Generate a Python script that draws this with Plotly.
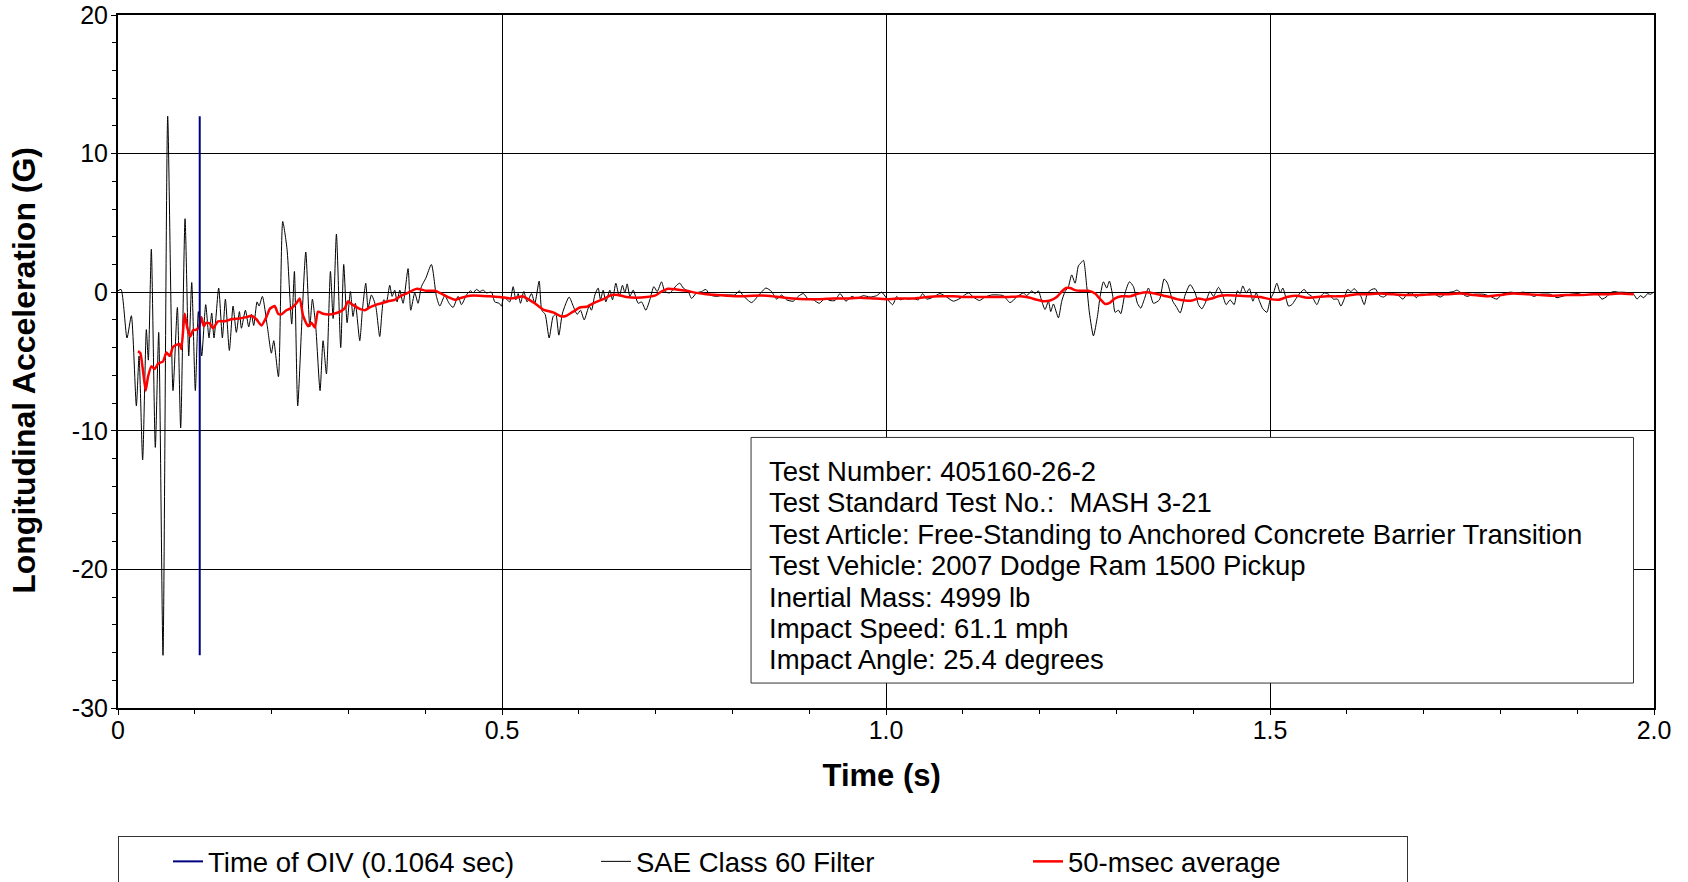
import plotly.graph_objects as go

# ---------------- data ----------------
oiv_time = 0.1064

sae_t = [0.0, 0.004, 0.0117, 0.0174, 0.0239, 0.0274, 0.0321, 0.0369, 0.0395, 0.0434,
         0.0486, 0.053, 0.0586, 0.0647, 0.0716, 0.0773, 0.0816, 0.0873, 0.0921, 0.096,
         0.1007, 0.1046, 0.109, 0.1142, 0.1185, 0.122, 0.125, 0.1311, 0.1359, 0.1398,
         0.145, 0.1498, 0.1541, 0.1581, 0.1607, 0.1659, 0.1702, 0.1737, 0.1767, 0.1811,
         0.1837, 0.188, 0.1945, 0.1997, 0.2028, 0.2089, 0.2145, 0.2201, 0.2262, 0.2297,
         0.234, 0.2393, 0.2445, 0.2497, 0.2531, 0.2575, 0.2631, 0.267, 0.2714, 0.2766,
         0.2801, 0.2844, 0.290, 0.2939, 0.2983, 0.3026, 0.306, 0.3091, 0.3148, 0.3182,
         0.3226, 0.3256, 0.33, 0.3356, 0.3408, 0.346, 0.3495, 0.3538, 0.3569, 0.3603,
         0.3634, 0.3669, 0.3712, 0.3777, 0.3812, 0.3864, 0.3907, 0.395, 0.4007, 0.4081,
         0.4146, 0.419, 0.4255, 0.4311, 0.4363, 0.4428, 0.4472, 0.4537, 0.4589, 0.4624,
         0.4667, 0.471, 0.4754, 0.4798, 0.4863, 0.4906, 0.4963, 0.4993, 0.5023, 0.5067,
         0.5101, 0.5145, 0.518, 0.521, 0.5241, 0.5284, 0.5327, 0.5384, 0.5427, 0.5484,
         0.5518, 0.5562, 0.5614, 0.5666, 0.5701, 0.574, 0.5788, 0.5874, 0.5927, 0.5979,
         0.6022, 0.607, 0.6135, 0.6165, 0.6209, 0.6252, 0.6283, 0.6317, 0.6352, 0.6404,
         0.6439, 0.6482, 0.6526, 0.6569, 0.66, 0.663, 0.6665, 0.6708, 0.6773, 0.6817,
         0.6873, 0.6925, 0.6977, 0.7021, 0.7077, 0.7121, 0.7186, 0.7273, 0.7316, 0.736,
         0.7425, 0.7468, 0.7533, 0.7598, 0.7655, 0.7707, 0.7794, 0.7881, 0.7967, 0.8033,
         0.8089, 0.8141, 0.825, 0.8337, 0.8437, 0.851, 0.8576, 0.8641, 0.8706, 0.8793,
         0.8858, 0.8923, 0.8988, 0.9053, 0.9131, 0.9205, 0.927, 0.9336, 0.9401, 0.9479,
         0.9553, 0.9618, 0.9705, 0.9791, 0.9878, 0.9943, 1.0009, 1.0087, 1.0139, 1.0182,
         1.0247, 1.0291, 1.0356, 1.0421, 1.0478, 1.053, 1.0616, 1.0703, 1.079, 1.0877,
         1.0964, 1.1072, 1.1138, 1.1216, 1.1289, 1.1376, 1.1463, 1.1528, 1.1615, 1.1702,
         1.1789, 1.1832, 1.1897, 1.1941, 1.1984, 1.2028, 1.2071, 1.2115, 1.2145, 1.218,
         1.2245, 1.2288, 1.2332, 1.2375, 1.2418, 1.2462, 1.2505, 1.2536, 1.2571, 1.2614,
         1.2649, 1.2701, 1.2753, 1.2788, 1.2831, 1.2874, 1.2909, 1.2953, 1.2983, 1.3027,
         1.3057, 1.3113, 1.317, 1.3222, 1.3274, 1.3317, 1.3361, 1.3417, 1.3482, 1.356,
         1.3621, 1.3665, 1.3734, 1.3786, 1.383, 1.3895, 1.396, 1.4025, 1.4069, 1.4112,
         1.4155, 1.422, 1.4264, 1.4329, 1.4385, 1.4429, 1.4481, 1.4533, 1.4576, 1.4611,
         1.4646, 1.469, 1.4733, 1.4777, 1.482, 1.4863, 1.4907, 1.4959, 1.5002, 1.5046,
         1.5089, 1.5133, 1.5167, 1.5211, 1.5241, 1.5285, 1.5328, 1.5393, 1.5445, 1.5489,
         1.5545, 1.561, 1.5654, 1.5706, 1.5762, 1.5827, 1.5879, 1.5923, 1.5966, 1.601,
         1.6053, 1.6097, 1.614, 1.6183, 1.6227, 1.627, 1.6327, 1.637, 1.6427, 1.6479,
         1.6544, 1.6609, 1.6674, 1.6731, 1.6783, 1.6848, 1.6904, 1.6956, 1.7043, 1.713,
         1.7217, 1.7304, 1.7391, 1.7434, 1.7477, 1.7564, 1.7651, 1.7781, 1.7868, 1.7955,
         1.802, 1.8129, 1.8215, 1.8302, 1.8368, 1.8433, 1.852, 1.865, 1.8737, 1.8802,
         1.891, 1.9019, 1.9084, 1.9171, 1.9258, 1.9323, 1.9388, 1.9431, 1.9475, 1.954,
         1.9605, 1.967, 1.9735, 1.9779, 1.9822, 1.9866, 1.9918, 1.9953, 1.9996]

sae_g = [0.1, 0.2, -3.3, -1.7, -8.2, -4.6, -12.1, -2.7, -4.9, 3.1,
         -11.2, -2.9, -26.2, 12.7, -7.1, -1.1, -9.8, 5.3, -4.6, 0.7,
         -7.1, -1.4, -4.6, -0.9, -3.3, -1.5, -3.3, 0.3, -3.3, -0.5,
         -4.2, -1.0, -2.9, -1.4, -2.6, -1.3, -2.5, -1.6, -2.4, -0.7,
         -1.0, -0.3, -2.5, -4.4, -3.5, -6.1, 5.1, 3.1, -2.3, 1.5,
         -8.2, -2.2, 2.9, -2.5, -0.5, -2.5, -7.1, -3.5, -5.9, 1.5,
         -1.9, 4.2, -4.0, 2.0, -2.2, 0.05, -1.75, -0.8, -3.5, -1.3,
         0.65, -1.15, -0.2, -1.0, -3.2, -0.55, -0.7, 0.5, -0.3, 0.15,
         -0.7, 0.15, -0.8, 1.7, -1.3, -0.05, -0.8, 0.4, 1.0, 2.0,
         -0.3, -1.0, -0.25, -0.8, -1.1, -0.3, -0.9, -0.2, 0.1, -0.05,
         0.2, 0.05, 0.15, -0.05, 0.0, -0.7, -0.8, -1.0, -0.35, -0.55,
         -0.7, 0.4, -0.55, -0.1, -0.8, 0.05, -0.7, -0.1, -0.8, 0.8,
         -1.3, -1.6, -3.3, -1.75, -1.6, -3.1, -1.5, -0.35, -1.0, -1.6,
         -1.3, -2.0, -1.0, -1.3, -0.2, 0.3, -0.55, 0.15, -0.7, 0.15,
         -0.55, 0.65, -0.3, 0.5, -0.05, 0.6, -0.3, 0.15, -0.8, -0.7,
         -1.3, -0.55, 0.4, 0.05, 0.75, 0.05, -0.05, 0.5, 0.65, 0.3,
         0.05, -0.45, -0.05, 0.05, 0.2, -0.2, -0.3, -0.2, -0.2, -0.2,
         0.1, -0.25, -0.75, -0.25, 0.3, 0.05, -0.5, -0.2, -0.55, -0.65,
         -0.3, -0.1, -0.5, -0.55, -0.8, -0.45, -0.6, -0.6, -0.1, -0.65,
         -0.3, -0.45, -0.25, -0.35, -0.25, 0.0, -0.45, -0.9, -0.3, -0.55,
         -0.45, -0.5, -0.45, -0.55, -0.1, -0.5, -0.35, -0.1, -0.35, -0.65,
         -0.45, -0.05, -0.35, -0.6, -0.35, -0.2, -0.2, -0.25, -0.75, -0.35,
         -0.05, -0.25, 0.1, -0.1, 0.1, -0.65, -1.25, -0.65, -1.4, -0.85,
         -1.85, -0.65, 0.05, 0.4, 1.25, 0.65, 1.9, 2.1, 2.3, 0.4,
         -1.5, -3.15, -1.75, -0.3, 0.75, 0.3, 0.8, -0.3, -1.45, -1.3,
         -1.55, -0.05, 0.75, 0.4, -0.8, -1.15, -0.55, 0.3, -0.8, -0.55,
         0.95, 0.65, -0.65, -1.1, -1.5, -0.2, 0.55, -0.05, -0.9, -1.2,
         -0.8, 0.05, -0.3, 0.35, -0.25, -0.9, -0.55, -0.9, 0.1, -0.1,
         0.45, -0.05, 0.25, -0.65, -0.05, -0.65, -1.2, -1.45, -0.55, -0.05,
         0.65, -0.05, 0.3, -0.5, -1.0, -0.9, -0.55, -0.05, 0.2, -0.1,
         -0.3, -0.9, -0.35, -0.05, -0.15, -0.5, -0.5, -1.0, -0.5, 0.2,
         0.05, 0.25, 0.0, -0.3, -0.9, -0.05, 0.2, 0.25, -0.25, -0.35,
         -0.1, -0.15, -0.25, -0.5, -0.15, -0.05, -0.4, -0.15, -0.15, -0.1,
         -0.35, -0.05, 0.05, 0.15, 0.0, -0.3, -0.15, -0.15, -0.3, -0.5,
         -0.15, 0.0, -0.05, 0.0, -0.1, -0.3, -0.15, -0.15, -0.4, -0.3,
         -0.15, -0.1, -0.25, -0.15, -0.1, -0.5, -0.3, -0.05, 0.05, 0.0,
         0.0, -0.05, -0.15, -0.5, -0.25, -0.4, -0.1, -0.15, 0.0]

avg_t = [0.026, 0.0291, 0.0326, 0.036, 0.0391, 0.0434, 0.0478, 0.0521, 0.0586, 0.063,
         0.0673, 0.0716, 0.076, 0.0803, 0.0825, 0.0868, 0.0899, 0.0942, 0.0977, 0.102,
         0.1055, 0.1086, 0.1116, 0.1151, 0.1194, 0.1238, 0.1303, 0.139, 0.1476, 0.1585,
         0.1672, 0.1737, 0.1802, 0.1867, 0.1932, 0.1976, 0.2041, 0.2084, 0.2128, 0.2193,
         0.2258, 0.2323, 0.2366, 0.241, 0.2475, 0.2518, 0.2562, 0.2605, 0.267, 0.2757,
         0.2844, 0.2909, 0.2953, 0.2996, 0.304, 0.3083, 0.3148, 0.3213, 0.3278, 0.3365,
         0.343, 0.3517, 0.3603, 0.369, 0.3755, 0.3842, 0.3894, 0.4016, 0.4125, 0.419,
         0.4298, 0.4385, 0.4472, 0.458, 0.471, 0.4841, 0.4971, 0.5101, 0.5188, 0.5267,
         0.534, 0.5427, 0.5536, 0.5666, 0.5775, 0.584, 0.5927, 0.6013, 0.61, 0.6187,
         0.6317, 0.6426, 0.6513, 0.6621, 0.6752, 0.6882, 0.6991, 0.7077, 0.7164, 0.7273,
         0.7403, 0.7533, 0.7663, 0.7794, 0.7924, 0.8098, 0.8272, 0.8445, 0.8619, 0.8793,
         0.8966, 0.914, 0.9314, 0.9488, 0.9661, 0.9835, 1.0009, 1.0182, 1.0356, 1.053,
         1.0703, 1.0877, 1.1051, 1.1224, 1.1398, 1.1572, 1.1745, 1.1876, 1.1963, 1.2049,
         1.2136, 1.2223, 1.2288, 1.2345, 1.2397, 1.2462, 1.2527, 1.2636, 1.2723, 1.2788,
         1.2853, 1.2918, 1.2983, 1.307, 1.3178, 1.3287, 1.3395, 1.3504, 1.3613, 1.37,
         1.3786, 1.3895, 1.3982, 1.4069, 1.4155, 1.4242, 1.4351, 1.4612, 1.4742, 1.4872,
         1.5002, 1.5111, 1.522, 1.535, 1.548, 1.561, 1.574, 1.587, 1.6001, 1.6131,
         1.6262, 1.6435, 1.6609, 1.6783, 1.6956, 1.713, 1.7304, 1.7477, 1.7651, 1.7825,
         1.7998, 1.8172, 1.8346, 1.852, 1.8693, 1.8867, 1.9041, 1.9214, 1.9388, 1.9562,
         1.9735]

avg_g = [-4.25, -4.4, -5.7, -7.1, -6.1, -5.35, -5.55, -5.15, -5.0, -4.35,
         -4.6, -3.95, -3.8, -3.75, -4.1, -1.55, -2.5, -3.2, -2.75, -2.7,
         -2.5, -1.8, -2.45, -2.2, -2.25, -2.6, -2.1, -2.1, -1.95, -1.9,
         -1.8, -1.7, -1.95, -2.4, -1.8, -1.2, -1.0, -1.55, -1.6, -1.3,
         -1.15, -0.8, -0.45, -1.7, -2.45, -2.2, -2.55, -1.4, -1.55, -1.6,
         -1.5, -1.35, -1.15, -0.65, -0.85, -1.0, -1.2, -1.3, -1.1, -0.9,
         -0.8, -0.65, -0.55, -0.25, -0.1, 0.15, 0.25, 0.1, 0.1, -0.05,
         -0.35, -0.55, -0.4, -0.25, -0.25, -0.3, -0.35, -0.45, -0.4, -0.3,
         -0.5, -0.8, -1.25, -1.45, -1.75, -1.7, -1.4, -1.1, -1.05, -0.8,
         -0.5, -0.2, -0.2, -0.35, -0.4, -0.35, -0.25, 0.05, 0.25, 0.2,
         0.1, -0.05, -0.15, -0.2, -0.25, -0.3, -0.25, -0.25, -0.35, -0.45,
         -0.5, -0.5, -0.45, -0.45, -0.4, -0.45, -0.5, -0.45, -0.45, -0.35,
         -0.3, -0.3, -0.35, -0.35, -0.35, -0.35, -0.3, -0.4, -0.55, -0.65,
         -0.6, -0.35, 0.05, 0.3, 0.3, 0.15, 0.1, 0.1, -0.1, -0.5,
         -0.85, -0.75, -0.45, -0.3, -0.3, -0.1, 0.0, -0.1, -0.25, -0.35,
         -0.5, -0.6, -0.6, -0.45, -0.55, -0.45, -0.25, -0.25, -0.3, -0.35,
         -0.5, -0.55, -0.35, -0.25, -0.4, -0.35, -0.3, -0.3, -0.25, -0.15,
         -0.15, -0.1, -0.15, -0.2, -0.2, -0.15, -0.15, -0.1, -0.2, -0.3,
         -0.2, -0.1, -0.15, -0.2, -0.25, -0.2, -0.2, -0.15, -0.15, -0.1,
         -0.15]

x_tick_vals = [0, 0.5, 1.0, 1.5, 2.0]
x_tick_text = ["0", "0.5", "1.0", "1.5", "2.0"]
y_tick_vals = [-30, -20, -10, 0, 10, 20]
y_tick_text = ["-30", "-20", "-10", "0", "10", "20"]

info_lines = [
    "Test Number: 405160-26-2",
    "Test Standard Test No.:  MASH 3-21",
    "Test Article: Free-Standing to Anchored Concrete Barrier Transition",
    "Test Vehicle: 2007 Dodge Ram 1500 Pickup",
    "Inertial Mass: 4999 lb",
    "Impact Speed: 61.1 mph",
    "Impact Angle: 25.4 degrees",
]

series_names = ["Time of OIV (0.1064 sec)", "SAE Class 60 Filter", "50-msec average"]

# ---------------- figure ----------------
FONT = "Arial, Liberation Sans, sans-serif"
fig = go.Figure()

fig.add_trace(go.Scatter(
    x=sae_t, y=sae_g, mode="lines", name=series_names[1], legendrank=2,
    legendwidth=338,
    line=dict(color="black", width=1, shape="spline", smoothing=0.6),
    hoverinfo="skip"))
fig.add_trace(go.Scatter(
    x=avg_t, y=avg_g, mode="lines", name=series_names[2], legendrank=3,
    legendwidth=334,
    line=dict(color="#ff0000", width=2.5, shape="spline", smoothing=0.5),
    hoverinfo="skip"))
fig.add_trace(go.Scatter(
    x=[oiv_time, oiv_time], y=[min(sae_g), max(sae_g)], mode="lines",
    name=series_names[0], legendrank=1, legendwidth=334,
    line=dict(color="#000080", width=2), hoverinfo="skip"))

# info box (data coordinates)
box_x0, box_x1 = 0.8243, 1.9733
box_y0, box_y1 = -28.2, -10.48
fig.add_shape(type="rect", xref="x", yref="y", x0=box_x0, x1=box_x1, y0=box_y0, y1=box_y1,
              line=dict(color="#333333", width=1), fillcolor="white", layer="above")
text_x = 0.8447
first_y = -12.94
step_y = -2.264
for i, line in enumerate(info_lines):
    fig.add_annotation(x=text_x, y=first_y + i * step_y, xref="x", yref="y",
                       text=line, showarrow=False, xanchor="left", yanchor="middle",
                       font=dict(family=FONT, size=27.5, color="black"))

fig.update_layout(
    width=1688, height=882,
    paper_bgcolor="white", plot_bgcolor="white",
    margin=dict(l=118, r=34, t=15, b=174, autoexpand=False),
    font=dict(family=FONT, size=25, color="black"),
    showlegend=True,
    legend=dict(orientation="h", x=0, xanchor="left", y=-0.1847, yanchor="top",
                bordercolor="#333333", borderwidth=1, bgcolor="white",
                font=dict(family=FONT, size=27.5, color="black"),
                entrywidth=334, entrywidthmode="pixels", indentation=49,
                traceorder="normal"),
)

fig.update_xaxes(
    range=[0, 2], tickvals=x_tick_vals, ticktext=x_tick_text, automargin=False,
    showgrid=True, gridcolor="black", gridwidth=1, zeroline=False,
    showline=True, linecolor="black", linewidth=2, mirror=True,
    ticks="outside", ticklen=5, tickcolor="black", ticklabelstandoff=-6,
    ticklabeloverflow="allow",
    minor=dict(dtick=0.1, ticks="outside", ticklen=4, tickcolor="black", showgrid=False),
    tickfont=dict(family=FONT, size=25),
    title=dict(text="<b>Time (s)</b>&nbsp;", font=dict(family=FONT, size=31), standoff=21),
)
fig.update_yaxes(
    range=[-30, 20], tickvals=y_tick_vals, ticktext=y_tick_text, automargin=False,
    showgrid=True, gridcolor="black", gridwidth=1, zeroline=False,
    showline=True, linecolor="black", linewidth=2, mirror=True,
    ticks="outside", ticklen=5, tickcolor="black", ticklabelstandoff=-2,
    ticklabeloverflow="allow",
    minor=dict(dtick=2, ticks="outside", ticklen=4, tickcolor="black", showgrid=False),
    tickfont=dict(family=FONT, size=25),
    title=dict(text="<b>Longitudinal Acceleration (G)</b>&nbsp;&nbsp;",
               font=dict(family=FONT, size=32), standoff=27),
)

fig.write_html("out.html", config={"displayModeBar": False},
               post_script="document.body.style.margin='0';")
